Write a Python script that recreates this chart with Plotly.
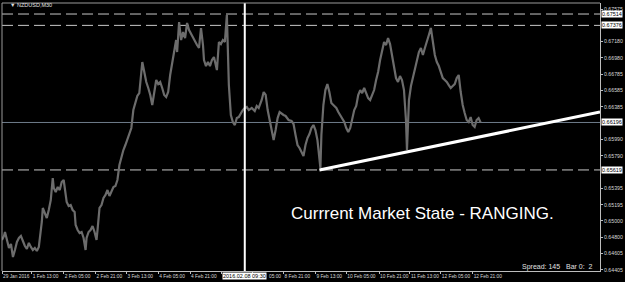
import plotly.graph_objects as go

# ---- data ----
bar_index = [0, 2, 3, 5, 7, 9, 11, 13, 15, 17, 19, 21, 23, 25, 27, 29, 31, 33, 35, 37, 38,
             40, 41, 43, 45, 47, 49, 51, 52, 54, 56, 58, 60, 62, 63, 65, 67, 69, 71, 73, 74,
             76, 78, 80, 82, 84, 85, 87, 89, 91, 93, 95, 96, 98, 100, 102, 104, 106, 108, 110,
             112, 114, 116, 118, 120, 122, 124, 126, 128, 130, 132, 134, 136, 138, 140, 141,
             143, 145, 147, 149, 151, 153, 155, 157, 159, 161, 163, 165, 167, 169, 171, 173,
             175, 176, 178, 180, 182, 184, 186, 188, 190, 192, 194, 196, 198, 200, 202, 203,
             205, 207, 209, 211, 213, 215, 216, 218, 220, 222, 224, 226, 227, 228, 230, 232,
             234, 236, 238, 240, 242, 244, 246, 248, 251, 254, 256, 258, 261, 263, 265, 267,
             269, 271, 273, 275, 277, 279, 281, 283, 285, 288, 291, 293, 295, 297, 299, 301,
             303, 305, 307, 309, 311, 313, 315, 317, 318, 320, 321, 323, 325, 327, 329, 331,
             334, 336, 338, 340, 342, 344, 346, 348, 350, 352, 354, 356, 358, 360, 362, 364,
             366, 368, 370, 372, 374, 376, 378, 380, 382, 384, 386, 388, 390, 392, 394, 396,
             398, 400, 402, 404, 406, 407, 408, 409, 411, 413, 415, 417, 419, 421, 423, 425,
             427, 429, 431, 433, 435, 437, 439, 441, 443, 445, 447, 449, 451, 453, 455, 457,
             459, 461, 463, 465, 467, 469, 471, 473, 475, 477, 479, 481]

close = [0.64768, 0.64817, 0.64865, 0.64768, 0.64671, 0.64719, 0.64561, 0.64646, 0.64744, 0.64792,
         0.64817, 0.64756, 0.64695, 0.64659, 0.64732, 0.64683, 0.64646, 0.64671, 0.64634, 0.64683,
         0.64768, 0.64987, 0.65157, 0.65084, 0.65035, 0.65132, 0.65254, 0.65521, 0.65400, 0.65351,
         0.65412, 0.65375, 0.65473, 0.65497, 0.65412, 0.65230, 0.65181, 0.65193, 0.65132, 0.65108,
         0.64950, 0.64889, 0.64853, 0.64865, 0.64792, 0.64646, 0.64792, 0.64865, 0.64889, 0.64938,
         0.64865, 0.64768, 0.64889, 0.65157, 0.65193, 0.65278, 0.65315, 0.65375, 0.65303, 0.65351,
         0.65412, 0.65424, 0.65497, 0.65679, 0.65789, 0.65861, 0.65922, 0.65983, 0.66044, 0.66129,
         0.66347, 0.66433, 0.66518, 0.66554, 0.66833, 0.66931, 0.66809, 0.66688, 0.66615, 0.66530,
         0.66408, 0.66590, 0.66712, 0.66663, 0.66688, 0.66615, 0.66530, 0.66505, 0.66566, 0.66773,
         0.66931, 0.67076, 0.67198, 0.67052, 0.67417, 0.67198, 0.67295, 0.67222, 0.67405, 0.67319,
         0.67271, 0.67222, 0.67174, 0.67137, 0.67101, 0.67344, 0.67137, 0.66955, 0.66882, 0.66931,
         0.66882, 0.66955, 0.66991, 0.66882, 0.66833, 0.67174, 0.67149, 0.67198, 0.67174, 0.67502,
         0.67076, 0.66651, 0.66287, 0.66202, 0.66165, 0.66250, 0.66262, 0.66311, 0.66347, 0.66372,
         0.66384, 0.66347, 0.66372, 0.66335, 0.66396, 0.66372, 0.66469, 0.66566, 0.66530, 0.66347,
         0.66226, 0.66141, 0.65983, 0.66104, 0.66250, 0.66323, 0.66299, 0.66287, 0.66275, 0.66226,
         0.66214, 0.66177, 0.66044, 0.65922, 0.65886, 0.65837, 0.65789, 0.65922, 0.66007, 0.66056,
         0.66129, 0.66165, 0.66104, 0.65983, 0.65837, 0.65643, 0.66044, 0.66408, 0.66590, 0.66663,
         0.66566, 0.66433, 0.66396, 0.66372, 0.66323, 0.66287, 0.66250, 0.66202, 0.66129, 0.66080,
         0.66129, 0.66250, 0.66347, 0.66396, 0.66530, 0.66590, 0.66554, 0.66615, 0.66542, 0.66493,
         0.66469, 0.66530, 0.66590, 0.66712, 0.66809, 0.66955, 0.67076, 0.67174, 0.67137, 0.67222,
         0.67149, 0.67016, 0.66833, 0.66736, 0.66688, 0.66761, 0.66712, 0.66590, 0.66226, 0.65861,
         0.66165, 0.66469, 0.66639, 0.66736, 0.66833, 0.66955, 0.67052, 0.67101, 0.67016, 0.67101,
         0.67198, 0.67259, 0.67344, 0.67198, 0.67016, 0.66931, 0.66882, 0.66809, 0.66736, 0.66712,
         0.66688, 0.66651, 0.66615, 0.66639, 0.66663, 0.66736, 0.66773, 0.66566, 0.66408, 0.66311,
         0.66226, 0.66202, 0.66262, 0.66165, 0.66141, 0.66226, 0.66250, 0.66196]

# tick labels; the two hidden behind the cursor time box are left blank, the visible
# tail of the "8 Feb 05:00" label is drawn separately
x_tick_pos = [0, 30, 62, 94, 125, 157, 189, 221, 252, 283, 315, 346, 379, 410, 441, 473]
x_tick_text = ["29 Jan 2016", "1 Feb 13:00", "2 Feb 05:00", "2 Feb 21:00", "3 Feb 13:00",
               "4 Feb 05:00", "4 Feb 21:00", "", "", "8 Feb 21:00",
               "9 Feb 13:00", "10 Feb 05:00", "10 Feb 21:00", "11 Feb 13:00", "12 Feb 05:00",
               "12 Feb 21:00"]
partial_label = "05:00"
partial_label_pos = 266

y_tick_vals = [0.67575, 0.67180, 0.66980, 0.66785, 0.66585, 0.66385, 0.65990, 0.65790,
               0.65395, 0.65195, 0.65000, 0.64800, 0.64605, 0.64405]

resistance_levels = [0.67514, 0.67376]
support_level = 0.65619
current_price = 0.66196
trend_x = [319, 601]
trend_y = [0.65619, 0.66323]
vline_bar = 244
vline_label = "2016.02.08 09:30"
symbol_title = "NZDUSD,M30"
spread_text = "Spread: 145"
bar_text = "Bar 0:  2"
comment_text = "Currrent Market State - RANGING."

X_RANGE = [0, 601]
Y_RANGE = [0.64391, 0.67648]

FONT = "Liberation Sans, Arial, sans-serif"
LBL = "#d8d8d8"
AX = "#bdbdbd"

fig = go.Figure()
fig.add_trace(go.Scatter(x=bar_index, y=close, mode="lines",
                         line=dict(color="#6c6c6c", width=2.2), hoverinfo="skip",
                         showlegend=False))
fig.add_trace(go.Scatter(x=trend_x, y=trend_y, mode="lines",
                         line=dict(color="#ffffff", width=3), hoverinfo="skip",
                         showlegend=False))

shapes = []
for lv in resistance_levels + [support_level]:
    shapes.append(dict(type="line", xref="paper", x0=0, x1=1, yref="y", y0=lv, y1=lv,
                       line=dict(color="#c8c8c8", width=1, dash="11px,5px"), layer="below"))
shapes.append(dict(type="line", xref="paper", x0=0, x1=1, yref="y", y0=current_price,
                   y1=current_price, line=dict(color="#6f7c8a", width=1), layer="below"))
shapes.append(dict(type="line", xref="x", x0=vline_bar, x1=vline_bar, yref="paper", y0=0, y1=1,
                   line=dict(color="#ffffff", width=2)))
# frame
shapes.append(dict(type="line", xref="paper", x0=0, x1=1, yref="paper", y0=1, y1=1,
                   line=dict(color="#9a9a9a", width=1)))
shapes.append(dict(type="line", xref="paper", x0=0, x1=0, yref="paper", y0=0, y1=1,
                   line=dict(color="#9a9a9a", width=1)))

annotations = []
for lv in resistance_levels + [current_price, support_level]:
    annotations.append(dict(xref="paper", x=1, yref="y", y=lv, xanchor="left", yanchor="middle",
                            xshift=1, text=f"{lv:.5f}", showarrow=False, bgcolor="#ffffff",
                            borderpad=0, font=dict(family=FONT, size=5.5, color="#000000")))
annotations.append(dict(xref="x", x=vline_bar, yref="paper", y=0, xanchor="center",
                        yanchor="top", yshift=-1, text=vline_label, showarrow=False,
                        bgcolor="#ffffff", borderpad=0,
                        font=dict(family=FONT, size=5.5, color="#000000")))
annotations.append(dict(xref="x", x=partial_label_pos, yref="paper", y=0, xanchor="left",
                        yanchor="top", yshift=-1, text=partial_label, showarrow=False,
                        font=dict(family=FONT, size=4.8, color=LBL)))
annotations.append(dict(xref="paper", x=0.01, yref="paper", y=0.993, xanchor="left",
                        yanchor="middle", text="\u25BC " + symbol_title, showarrow=False,
                        font=dict(family=FONT, size=5.5, color="#e0e0e0")))
annotations.append(dict(xref="paper", x=0.7025, yref="paper", y=0.215, xanchor="center",
                        yanchor="middle", text=comment_text, showarrow=False,
                        font=dict(family=FONT, size=17, color="#ffffff")))
annotations.append(dict(xref="paper", x=0.866, yref="paper", y=0.015, xanchor="left",
                        yanchor="middle", text=spread_text, showarrow=False,
                        font=dict(family=FONT, size=7, color="#e0e0e0")))
annotations.append(dict(xref="paper", x=0.94, yref="paper", y=0.015, xanchor="left",
                        yanchor="middle", text=bar_text, showarrow=False,
                        font=dict(family=FONT, size=7, color="#e0e0e0")))

fig.update_layout(
    width=625, height=282,
    margin=dict(l=2, r=22, t=3, b=11),
    paper_bgcolor="#000000", plot_bgcolor="#000000",
    shapes=shapes, annotations=annotations, showlegend=False,
    xaxis=dict(range=X_RANGE, tickvals=x_tick_pos, ticktext=x_tick_text, tickangle=0,
               ticks="outside", ticklen=2, tickcolor=AX, ticklabelposition="outside right",
               tickfont=dict(family=FONT, size=4.8, color=LBL),
               showgrid=False, zeroline=False, showline=True, linecolor=AX, linewidth=1,
               fixedrange=True),
    yaxis=dict(range=Y_RANGE, side="right", tickvals=y_tick_vals,
               ticktext=[f"{v:.5f}" for v in y_tick_vals],
               ticks="outside", ticklen=2, tickcolor=AX,
               tickfont=dict(family=FONT, size=5.2, color=LBL),
               showgrid=False, zeroline=False, showline=True, linecolor=AX, linewidth=1,
               fixedrange=True),
)

fig.write_html("out.html")
